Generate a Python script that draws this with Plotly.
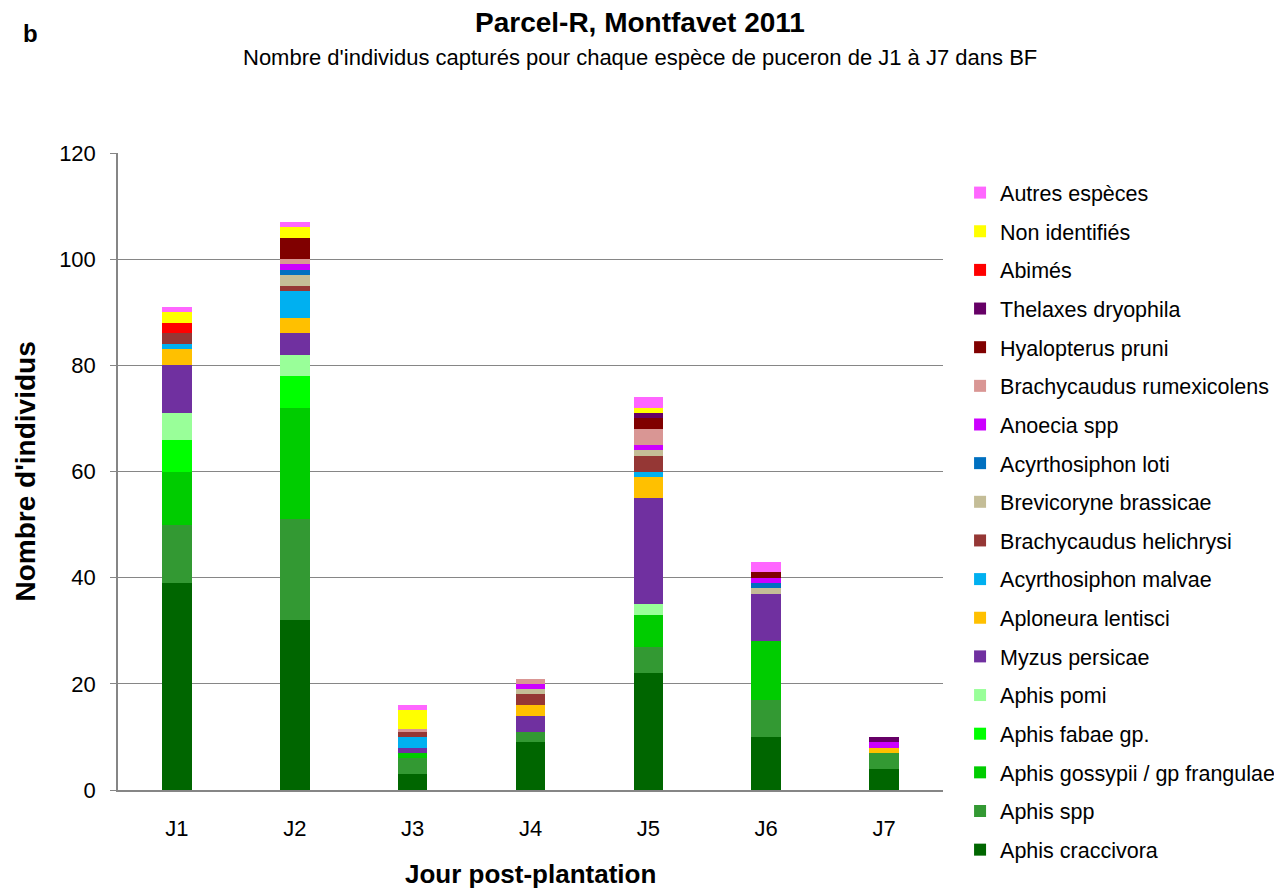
import plotly.graph_objects as go

jours = ["J1", "J2", "J3", "J4", "J5", "J6", "J7"]

# bottom of the stack first
especes = [
    "Aphis craccivora", "Aphis spp", "Aphis gossypii / gp frangulae",
    "Aphis fabae gp.", "Aphis pomi", "Myzus persicae", "Aploneura lentisci",
    "Acyrthosiphon malvae", "Brachycaudus helichrysi", "Brevicoryne brassicae",
    "Acyrthosiphon loti", "Anoecia spp", "Brachycaudus rumexicolens",
    "Hyalopterus pruni", "Thelaxes dryophila", "Abimés", "Non identifiés",
    "Autres espèces",
]

couleurs = [
    "#006600", "#339933", "#00CC00", "#00FF00", "#99FF99", "#7030A0",
    "#FFC000", "#00B0F0", "#953735", "#C4BD97", "#0070C0", "#CC00FF",
    "#D99694", "#800000", "#660066", "#FF0000", "#FFFF00", "#FF66FF",
]

aphis_craccivora = [39, 32, 3, 9, 22, 10, 4]
aphis_spp = [11, 19, 3, 2, 5, 7, 3]
aphis_gossypii = [10, 21, 1, 0, 6, 11, 0]
aphis_fabae = [6, 6, 0, 0, 0, 0, 0]
aphis_pomi = [5, 4, 0, 0, 2, 0, 0]
myzus_persicae = [9, 4, 1, 3, 20, 9, 0]
aploneura_lentisci = [3, 3, 0, 2, 4, 0, 1]
acyrthosiphon_malvae = [1, 5, 2, 0, 1, 0, 0]
brachycaudus_helichrysi = [2, 1, 1, 2, 3, 0, 0]
brevicoryne_brassicae = [0, 2, 0, 1, 1, 1, 0]
acyrthosiphon_loti = [0, 1, 0, 0, 0, 1, 0]
anoecia_spp = [0, 1, 0, 1, 1, 1, 1]
brachycaudus_rumexicolens = [0, 1, 0.5, 1, 3, 0, 0]
hyalopterus_pruni = [0, 4, 0, 0, 2, 1, 0]
thelaxes_dryophila = [0, 0, 0, 0, 1, 0, 1]
abimes = [2, 0, 0, 0, 0, 0, 0]
non_identifies = [2, 2, 3.5, 0, 1, 0, 0]
autres_especes = [1, 1, 1, 0, 2, 2, 0]

valeurs = [
    aphis_craccivora, aphis_spp, aphis_gossypii, aphis_fabae, aphis_pomi,
    myzus_persicae, aploneura_lentisci, acyrthosiphon_malvae,
    brachycaudus_helichrysi, brevicoryne_brassicae, acyrthosiphon_loti,
    anoecia_spp, brachycaudus_rumexicolens, hyalopterus_pruni,
    thelaxes_dryophila, abimes, non_identifies, autres_especes,
]

police = "Liberation Sans, Arial, sans-serif"

fig = go.Figure()
for i in range(len(especes)):
    fig.add_trace(go.Bar(name=especes[i], x=jours, y=valeurs[i],
                         marker=dict(color=couleurs[i], line=dict(width=0)),
                         legendgroup=especes[i], legendrank=100 - i))

# the page puts the figure 8px from the top-left corner
fig.update_layout(
    barmode="stack", bargap=0.749,
    width=1274, height=880,
    margin=dict(l=110, r=339, t=145, b=98),
    paper_bgcolor="white", plot_bgcolor="white",
    font=dict(family=police, color="black", size=20),
    showlegend=True,
    legend=dict(traceorder="grouped", tracegroupgap=7.7, maxheight=1.0,
                xref="container", yref="container",
                x=0.7473, xanchor="left", y=0.8135, yanchor="top",
                font=dict(size=21.5), itemwidth=30),
)

fig.update_xaxes(showline=True, linecolor="#868686", linewidth=1.5,
                 ticks="", tickfont=dict(size=22), ticklabelstandoff=18)
fig.update_yaxes(range=[0, 120], dtick=20, showgrid=True, gridcolor="#868686",
                 gridwidth=1.2, showline=True, linecolor="#868686",
                 linewidth=1.5, ticks="outside", ticklen=6,
                 tickcolor="#868686", tickfont=dict(size=22),
                 ticklabelstandoff=10)

fig.add_annotation(text="<b>Jour post-plantation</b>", xref="paper",
                   yref="paper", x=0.5, y=0, yshift=-84, showarrow=False,
                   font=dict(size=26), yanchor="middle")
fig.add_annotation(text="<b>Nombre d'individus</b>", xref="paper",
                   yref="paper", x=0, y=0.5, xshift=-93, textangle=-90,
                   showarrow=False, font=dict(size=28), xanchor="center")
fig.add_annotation(text="<b>Parcel-R, Montfavet 2011</b>", xref="paper",
                   yref="paper", x=0.5, y=1, yshift=131, xshift=109,
                   showarrow=False, font=dict(size=28), yanchor="middle")
fig.add_annotation(text="Nombre d'individus capturés pour chaque espèce de puceron de J1 à J7 dans BF",
                   xref="paper", yref="paper", x=0.5, y=1, yshift=96,
                   xshift=109, showarrow=False, font=dict(size=22),
                   yanchor="middle")
fig.add_annotation(text="<b>b</b>", xref="paper", yref="paper", x=0,
                   y=1, xshift=-97, yshift=120, showarrow=False,
                   font=dict(size=24), yanchor="middle")

fig.write_html("out.html")
